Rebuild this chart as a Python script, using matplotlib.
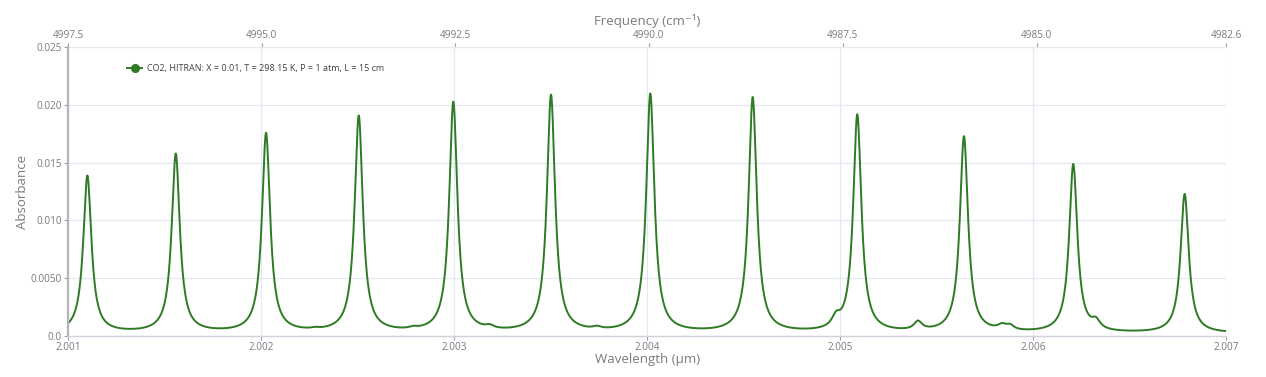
import numpy as np
import matplotlib.pyplot as plt
from matplotlib.lines import Line2D

# Main CO2 lines: centre wavelength (um) and peak absorbance
line_center_um = [2.0010984, 2.0015565, 2.0020244, 2.0025047, 2.0029948, 2.0035010,
                  2.0040155, 2.0045461, 2.0050881, 2.0056409, 2.0062073, 2.0067845]
line_peak_abs = [0.0139, 0.0158, 0.0176, 0.0191, 0.0203, 0.0209,
                 0.0210, 0.0207, 0.0192, 0.0173, 0.0149, 0.0123]

# Weak lines that show up as small bumps / shoulders between the main lines
weak_center_um = [2.0022782, 2.0027860, 2.0031829, 2.0037394, 2.0049780,
                  2.0054026, 2.0058378, 2.0058793, 2.0063250]
weak_peak_abs = [0.00010, 0.00015, 0.00025, 0.00020, 0.00085,
                 0.00075, 0.00040, 0.00040, 0.00070]

# Broad background under the band
background_abs = 0.0002

# Lorentz half width of the lines (um)
half_width_um = 0.0000255

wl_min, wl_max = 2.001, 2.007
y_ticks = [0.0, 0.005, 0.010, 0.015, 0.020, 0.025]
y_tick_labels = ["0.0", "0.0050", "0.010", "0.015", "0.020", "0.025"]
x_ticks = [2.001, 2.002, 2.003, 2.004, 2.005, 2.006, 2.007]
freq_ticks = [4997.5, 4995.0, 4992.5, 4990.0, 4987.5, 4985.0, 1e4 / wl_max]

legend_label = "CO2, HITRAN: X = 0.01, T = 298.15 K, P = 1 atm, L = 15 cm"
line_color = "#2f7a24"
grid_color = "#e4e8f1"
text_color = "#7a7a80"

plt.rcParams["font.family"] = ["Open Sans", "DejaVu Sans"]


def lorentz(x, x0):
    return 1.0 / (1.0 + ((x - x0) / half_width_um) ** 2)


# Line strengths so that the summed spectrum hits the read-off peak values
main_c = np.array(line_center_um)
weak_c = np.array(weak_center_um)
weak_a = np.array(weak_peak_abs)
A = lorentz(main_c[:, None], main_c[None, :])
weak_at_main = (lorentz(main_c[:, None], weak_c[None, :]) * weak_a).sum(axis=1)
main_a = np.linalg.solve(A, np.array(line_peak_abs) - weak_at_main - background_abs)

wl = np.linspace(wl_min, wl_max, 4000)
absorbance = (lorentz(wl[:, None], main_c[None, :]) * main_a).sum(axis=1)
absorbance += (lorentz(wl[:, None], weak_c[None, :]) * weak_a).sum(axis=1)
absorbance += background_abs

fig = plt.figure(figsize=(12.66, 3.77), dpi=100)
ax = fig.add_axes([0.0540, 0.1093, 0.9146, 0.7652])

ax.plot(wl, absorbance, color=line_color, lw=1.4)

ax.set_xlim(wl_min, wl_max)
ax.set_ylim(0, 0.025)
ax.set_xticks(x_ticks)
ax.set_xticklabels([f"{t:.3f}" for t in x_ticks])
ax.set_yticks(y_ticks)
ax.set_yticklabels(y_tick_labels)
ax.grid(True, color=grid_color, lw=0.9)
ax.set_axisbelow(True)

for s in ["top", "right"]:
    ax.spines[s].set_visible(False)
ax.spines["left"].set_color("#b4b4bc")
ax.spines["left"].set_linewidth(1.6)
ax.spines["bottom"].set_color("#cfd3de")
ax.spines["bottom"].set_linewidth(1.0)

ax.tick_params(axis="both", colors="#a0a0a8", labelcolor=text_color,
               labelsize=7.2, length=3, width=0.8, pad=1.5)

ax.set_xlabel("Wavelength (µm)", fontsize=9.5, color=text_color, labelpad=0)
ax.set_ylabel("Absorbance", fontsize=9.5, color=text_color, labelpad=1)

# Top axis in wavenumbers
top = ax.secondary_xaxis("top", functions=(lambda x: 1e4 / x, lambda x: 1e4 / x))
top.set_xticks(freq_ticks)
top.set_xticklabels([f"{t:.1f}" for t in freq_ticks])
top.spines["top"].set_color(grid_color)
top.tick_params(colors="#a0a0a8", labelcolor=text_color, labelsize=7.2,
                length=3, width=0.8, pad=1.5)
top.set_xlabel("Frequency (cm⁻¹)", fontsize=9.5, color=text_color, labelpad=4)

handle = Line2D([], [], color=line_color, lw=1.4, marker="o", ms=5.5)
ax.legend([handle], [legend_label], loc="upper left", bbox_to_anchor=(0.044, 0.97),
          frameon=False, fontsize=6.5, handlelength=1.6, handletextpad=0.6,
          numpoints=1, labelcolor="#404040")

fig.savefig("out.png", dpi=100)
